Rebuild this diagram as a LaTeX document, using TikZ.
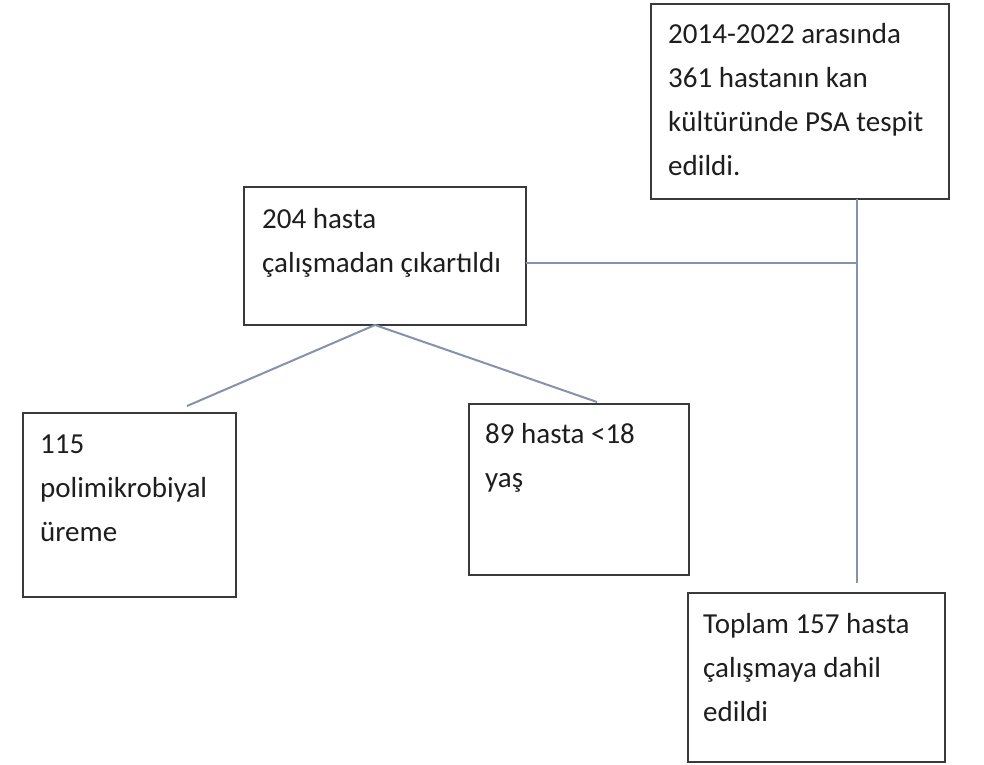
\documentclass[tikz,border=0pt]{standalone}
\usepackage{fontspec}
\setmainfont{Carlito}
\definecolor{boxline}{HTML}{3A3A3A}
\definecolor{conn}{HTML}{8393AE}
\definecolor{txtcol}{HTML}{1E1E1E}
\newcommand{\mylines}[1]{\vtop{\baselineskip=44pt\lineskiplimit=0pt\lineskip=0pt\halign{##\hfil\cr#1\crcr}}}
\begin{document}
\begin{tikzpicture}[x=1pt,y=-1pt,
  box/.style={draw=boxline,line width=2pt,fill=white,inner sep=0pt,outer sep=0pt},
  txt/.style={anchor=base west,inner sep=0pt,text=txtcol,font=\fontsize{29}{44}\selectfont},
  link/.style={draw=conn,line width=2pt}]
\useasboundingbox[fill=white] (0,0) rectangle (984,764);
% boxes
\node[box,minimum width=298pt,minimum height=195pt] (A) at (800,101.5) {};
\node[box,minimum width=282pt,minimum height=138pt] (B) at (385,256) {};
\node[box,minimum width=213pt,minimum height=184pt] (C) at (129.5,505) {};
\node[box,minimum width=220pt,minimum height=171pt] (D) at (579,489.5) {};
\node[box,minimum width=257pt,minimum height=169pt] (E) at (816.5,677.5) {};
% texts
\node[txt] (tA) at ([xshift=17pt,yshift=-39pt]A.north west) {\mylines{2014-2022 arasında\cr 361 hastanın kan\cr kültüründe PSA tespit\cr edildi.}};
\node[txt] (tB) at ([xshift=18pt,yshift=-41pt]B.north west) {\mylines{204 hasta\cr çalışmadan çıkartıldı}};
\node[txt] (tC) at ([xshift=17pt,yshift=-40pt]C.north west) {\mylines{115\cr polimikrobiyal\cr üreme}};
\node[txt] (tD) at ([xshift=16pt,yshift=-39pt]D.north west) {\mylines{89 hasta <18\cr yaş}};
\node[txt] (tE) at ([xshift=15pt,yshift=-40pt]E.north west) {\mylines{Toplam 157 hasta\cr çalışmaya dahil\cr edildi}};
% connector points
\coordinate (j) at (857,263);
\coordinate (vend) at (857,583);
\coordinate (bs) at ([xshift=-10pt]B.south);
\coordinate (cend) at (187,406);
\coordinate (dend) at (597,402);
% connectors
\draw[link] (A.south -| j) -- (vend);
\draw[link] (B.east |- j) -- (j);
\draw[link] (bs) -- (cend);
\draw[link] (bs) -- (dend);
\end{tikzpicture}
\end{document}
